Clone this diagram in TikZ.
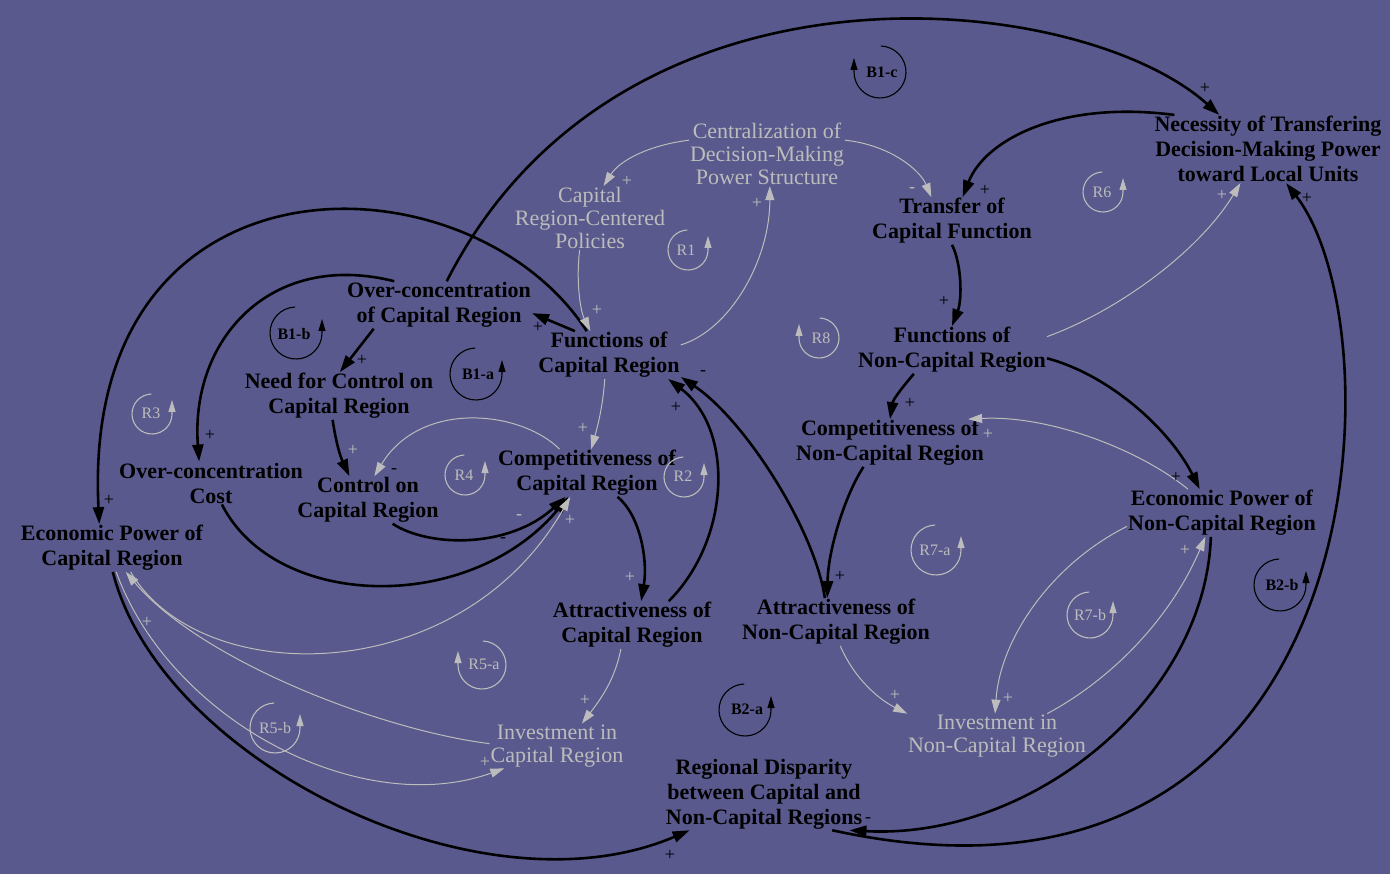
\documentclass[tikz,border=0pt]{standalone}
\usepackage{fontspec}
\setmainfont{Liberation Serif}
\usetikzlibrary{arrows.meta}

\definecolor{bgblue}{RGB}{89,89,141}
\definecolor{lgray}{RGB}{188,188,188}

\tikzset{
  var/.style={font=\fontsize{22}{25}\selectfont\bfseries, align=center, inner sep=1pt},
  aux/.style={font=\fontsize{22}{23}\selectfont, text=lgray, align=center, inner sep=1pt},
  link/.style={line width=2.6pt, -{Triangle[length=17pt,width=11pt]}},
  glink/.style={line width=1pt, lgray, -{Triangle[length=14pt,width=9pt]}},
  sgn/.style={font=\fontsize{18}{18}\selectfont, inner sep=0pt},
  gsgn/.style={sgn, text=lgray},
  bloop/.style={line width=1.1pt, -{Triangle[length=12pt,width=7pt]}},
  gloop/.style={bloop, lgray},
  bloopl/.style={font=\fontsize{16}{16}\selectfont\bfseries, inner sep=0pt},
  gloopl/.style={font=\fontsize{16}{16}\selectfont, text=lgray, inner sep=0pt},
}

\begin{document}
\begin{tikzpicture}[x=1pt, y=1pt]

\fill[bgblue] (0,0) rectangle (1390,-874);
\useasboundingbox (0,0) rectangle (1390,-874);

% variables
\node[var] (necess) at (1268,-149) {Necessity of Transfering\\Decision-Making Power\\toward Local Units};
\node[var] (transfer) at (952,-221) {Transfer of\\Capital Function};
\node[var] (funcN) at (952,-350) {Functions of\\Non-Capital Region};
\node[var] (compN) at (890,-443) {Competitiveness of\\Non-Capital Region};
\node[var] (econN) at (1222,-513) {Economic Power of\\Non-Capital Region};
\node[var] (attrN) at (836,-622) {Attractiveness of\\Non-Capital Region};
\node[var] (disp) at (764,-794) {Regional Disparity\\between Capital and\\Non-Capital Regions};
\node[var] (overC) at (439,-305) {Over-concentration\\of Capital Region};
\node[var] (funcC) at (609,-355) {Functions of\\Capital Region};
\node[var] (need) at (339,-396) {Need for Control on\\Capital Region};
\node[var] (cost) at (211,-483) {Over-concentration\\Cost};
\node[var] (ctrl) at (368,-500) {Control on\\Capital Region};
\node[var] (compC) at (587,-473) {Competitiveness of\\Capital Region};
\node[var] (econC) at (112,-548) {Economic Power of\\Capital Region};
\node[var] (attrC) at (632,-625) {Attractiveness of\\Capital Region};

\node[aux] (central) at (767,-154) {Centralization of\\Decision-Making\\Power Structure};
\node[aux] (policy) at (590,-218) {Capital\\Region-Centered\\Policies};
\node[aux] (investC) at (557,-746) {Investment in\\Capital Region};
\node[aux] (investN) at (997,-736) {Investment in\\Non-Capital Region};

% main links
\draw[link] (overC.72) .. controls (620,60) and (1080,10) .. (necess.145);
\draw[link] (necess.160) .. controls (1060,-100) and (985,-140) .. (transfer.66);
\draw[link] (transfer.south) .. controls (962,-265) and (962,-300) .. (funcN.north);
\draw[link] (funcN.-148) .. controls (900,-390) and (893,-400) .. (compN.north);
\draw[link] (funcN.-5) .. controls (1110,-375) and (1170,-430) .. (econN.133);
\draw[link] (compN.-138) .. controls (845,-495) and (828,-550) .. (attrN.110);
\draw[link] (attrN.115) .. controls (815,-530) and (745,-420) .. (funcC.-17);
\draw[link] (attrC.33) .. controls (730,-540) and (735,-430) .. (funcC.-22);
\draw[link] (compC.-38) .. controls (640,-515) and (648,-560) .. (attrC.69);
\draw[link] (funcC.145) -- (overC.-5);
\draw[link] (overC.-160) -- (need.88);
\draw[link] (need.-105) to[bend right=8] (ctrl.128);
\draw[link] (ctrl.-44) .. controls (430,-548) and (510,-548) .. (compC.-132);
\draw[link] (cost.-63) .. controls (275,-610) and (470,-615) .. (compC.-128);
\draw[link] (overC.152) .. controls (270,-250) and (190,-340) .. (cost.119);
\draw[link] (funcC.133) .. controls (470,-150) and (80,-140) .. (econC.118);
\draw[link] (econC.-88) .. controls (160,-760) and (480,-920) .. (disp.-154);
\draw[link] (econN.-115) .. controls (1205,-700) and (1030,-840) .. (disp.-23);
\draw[link] (disp.-28) .. controls (1380,-950) and (1400,-330) .. (necess.-62);

% minor links
\draw[glink] (central.170) .. controls (650,-145) and (620,-160) .. (policy.67);
\draw[glink] (policy.-108) .. controls (576,-280) and (580,-310) .. (funcC.128);
\draw[glink] (funcC.8) .. controls (730,-330) and (770,-260) .. (central.-85);
\draw[glink] (central.10) .. controls (890,-145) and (920,-170) .. (transfer.131);
\draw[glink] (funcN.8) .. controls (1120,-310) and (1200,-250) .. (necess.-129);
\draw[glink] (funcC.-100) .. controls (603,-405) and (598,-425) .. (compC.80);
\draw[glink] (compC.139) .. controls (520,-410) and (420,-400) .. (ctrl.75);
\draw[glink] (econC.-52) .. controls (200,-690) and (460,-690) .. (compC.-125);
\draw[glink] (investC.178) .. controls (380,-730) and (200,-660) .. (econC.-60);
\draw[glink] (econC.-80) .. controls (170,-720) and (360,-820) .. (investC.-157);
\draw[glink] (attrC.-115) .. controls (615,-680) and (600,-700) .. (investC.42);
\draw[glink] (attrN.-80) .. controls (855,-680) and (880,-700) .. (investN.166);
\draw[glink] (econN.-172) .. controls (1050,-565) and (1000,-640) .. (investN.95);
\draw[glink] (investN.24) .. controls (1110,-680) and (1170,-620) .. (econN.-125);
\draw[glink] (econN.145) .. controls (1140,-450) and (1050,-415) .. (compN.17);

% polarities
\node[sgn] (pA) at (1205,-88) {+};
\node[sgn] (pB) at (985,-190) {+};
\node[sgn] (pC) at (944,-301) {+};
\node[sgn] (pD) at (910,-403) {+};
\node[sgn] (pE) at (1176,-477) {+};
\node[sgn] (pF) at (840,-576) {+};
\node[sgn] (pG) at (703,-373) {-};
\node[sgn] (pH) at (676,-407) {+};
\node[sgn] (pJ) at (538,-327) {+};
\node[sgn] (pK) at (362,-360) {+};
\node[sgn] (pN) at (503,-540) {-};
\node[sgn] (pO) at (210,-435) {+};
\node[sgn] (pP) at (109,-500) {+};
\node[sgn] (pQ) at (670,-855) {+};
\node[sgn] (pR) at (868,-820) {-};
\node[sgn] (pS) at (1307,-198) {+};
\node[sgn] (pg) at (394,-471) {-};
\node[gsgn] (pd) at (912,-190) {-};
\node[gsgn] (po) at (988,-434) {+};
\node[gsgn] (pI) at (630,-577) {+};
\node[gsgn] (pL) at (353,-450) {+};
\node[gsgn] (pM) at (519,-517) {-};
\node[gsgn] (pa) at (627,-181) {+};
\node[gsgn] (pb) at (597,-310) {+};
\node[gsgn] (pc) at (757,-203) {+};
\node[gsgn] (pe) at (1222,-195) {+};
\node[gsgn] (pf) at (583,-428) {+};
\node[gsgn] (ph) at (570,-520) {+};
\node[gsgn] (pi) at (147,-622) {+};
\node[gsgn] (pj) at (485,-762) {+};
\node[gsgn] (pk) at (585,-700) {+};
\node[gsgn] (pl) at (895,-695) {+};
\node[gsgn] (pm) at (1008,-698) {+};
\node[gsgn] (pn) at (1185,-550) {+};

% loop markers
\draw[bloop] (476,-374) ++(92:26) arc[start angle=92, end angle=360, radius=26] -- ++(0,14);
\node[bloopl] (lB1a) at (478,-374) {B1-a};
\draw[bloop] (296,-333) ++(92:26) arc[start angle=92, end angle=360, radius=26] -- ++(0,14);
\node[bloopl] (lB1b) at (294,-334) {B1-b};
\draw[bloop] (880,-72) ++(88:26) arc[start angle=88, end angle=-180, radius=26] -- ++(0,14);
\node[bloopl] (lB1c) at (882,-72) {B1-c};
\draw[bloop] (745,-710) ++(92:26) arc[start angle=92, end angle=360, radius=26] -- ++(0,14);
\node[bloopl] (lB2a) at (747,-709) {B2-a};
\draw[bloop] (1280,-585) ++(92:26) arc[start angle=92, end angle=360, radius=26] -- ++(0,14);
\node[bloopl] (lB2b) at (1282,-585) {B2-b};

\draw[gloop] (688,-250) ++(92:20) arc[start angle=92, end angle=360, radius=20] -- ++(0,14);
\node[gloopl] (lR1) at (686,-250) {R1};
\draw[gloop] (684,-477) ++(92:20) arc[start angle=92, end angle=360, radius=20] -- ++(0,14);
\node[gloopl] (lR2) at (683,-476) {R2};
\draw[gloop] (152,-414) ++(92:20) arc[start angle=92, end angle=360, radius=20] -- ++(0,14);
\node[gloopl] (lR3) at (151,-413) {R3};
\draw[gloop] (465,-475) ++(92:20) arc[start angle=92, end angle=360, radius=20] -- ++(0,14);
\node[gloopl] (lR4) at (464,-475) {R4};
\draw[gloop] (482,-665) ++(88:24) arc[start angle=88, end angle=-180, radius=24] -- ++(0,14);
\node[gloopl] (lR5a) at (484,-664) {R5-a};
\draw[gloop] (275,-728) ++(92:25) arc[start angle=92, end angle=360, radius=25] -- ++(0,14);
\node[gloopl] (lR5b) at (275,-728) {R5-b};
\draw[gloop] (1103,-192) ++(92:20) arc[start angle=92, end angle=360, radius=20] -- ++(0,14);
\node[gloopl] (lR6) at (1102,-192) {R6};
\draw[gloop] (936,-550) ++(92:25) arc[start angle=92, end angle=360, radius=25] -- ++(0,14);
\node[gloopl] (lR7a) at (935,-550) {R7-a};
\draw[gloop] (1090,-615) ++(92:23) arc[start angle=92, end angle=360, radius=23] -- ++(0,14);
\node[gloopl] (lR7b) at (1090,-615) {R7-b};
\draw[gloop] (819,-338) ++(88:20) arc[start angle=88, end angle=-180, radius=20] -- ++(0,14);
\node[gloopl] (lR8) at (821,-338) {R8};

\end{tikzpicture}
\end{document}
